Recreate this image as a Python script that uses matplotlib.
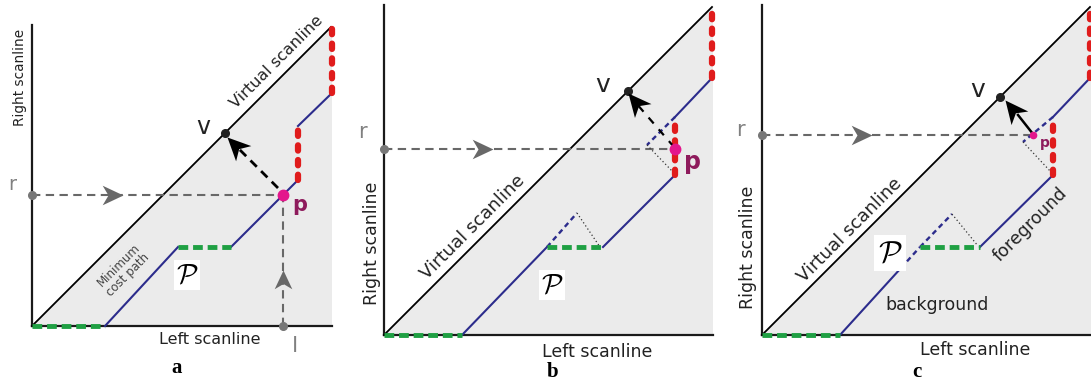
import matplotlib.pyplot as plt
from matplotlib.path import Path
from matplotlib.markers import MarkerStyle
from matplotlib.transforms import Affine2D

plt.rcParams['mathtext.fontset'] = 'cm'

# geometry of the three cost matrices, in pixels from each panel's origin
width_a, width_b, width_c = 300, 329, 329      # left scanline length
height_a, height_b, height_c = 301, 330, 330   # right scanline length
diag_a, diag_b, diag_c = 299, 328, 328         # end of the virtual scanline

# minimum cost path: g = left occlusion, m = match, h = hidden match,
# r = right occlusion
kind_ab = ['g', 'm', 'g', 'm', 'r', 'm', 'r']
kind_c = ['g', 'm', 'h', 'g', 'm', 'r', 'm', 'r']
path_a_x = [0, 73, 146, 199, 266, 266, 300, 300]
path_a_y = [0, 0, 79, 79, 146, 200, 233, 299]
path_b_x = [0, 78, 163, 219, 291, 291, 328, 328]
path_b_y = [0, 0, 88, 88, 160, 218, 257, 330]
path_c_x = [0, 78, 139, 158, 218, 291, 291, 328, 328]
path_c_y = [0, 0, 67, 88, 88, 160, 218, 257, 330]

# hidden continuation of a match (blue dots) and its projection (black dots)
occl_b_x = [[163, 193, 216], [291, 263, 289]]
occl_b_y = [[88, 122, 88], [218, 190, 163]]
occl_c_x = [[158, 190, 216], [291, 261, 289]]
occl_c_y = [[88, 121, 89], [218, 193, 163]]

# point p, virtual point v and the arrow from p to v
p_a, p_b, p_c = (251, 131), (291, 186), (271, 200)
v_a, v_b, v_c = (193, 193), (244, 244), (238, 238)
tip_a, tip_b, tip_c = (195, 189), (244, 242), (243, 235)
shaft_a = ([246, 205], [138, 179])
shaft_b = ([290, 252], [188, 232])
shaft_c = ([271, 256], [201, 220])
r_head = [91, 109, 110]           # x of the arrow head on the r line
l_x_a, l_head_a = 251, 56         # l line only in panel a

blue = '#2c2c8c'
green = '#1fa043'
red = '#e01c1c'
magenta = '#e3168c'
plum = '#8e1b5c'
grey = '#686868'
fill_grey = '#ebebeb'

stealth = Path([(0, 0), (-1, 0.47), (-0.72, 0), (-1, -0.47), (0, 0)],
               [Path.MOVETO, Path.LINETO, Path.LINETO, Path.LINETO, Path.CLOSEPOLY])


def head(ax, x, y, angle, color, size):
    m = MarkerStyle(stealth, transform=Affine2D().rotate_deg(angle))
    ax.plot(x, y, marker=m, ms=size, color=color, mec=color, mew=0, zorder=7)


def draw_panel(ax, w, h, d, px, py, kinds, occl_x, occl_y):
    ax.fill([0, w, w, d], [0, 0, d, d], color=fill_grey, lw=0, zorder=0)
    ax.plot([0, 0], [0, h], color='#1a1a1a', lw=1.6, zorder=2)
    ax.plot([0, w], [0, 0], color='#1a1a1a', lw=1.6, zorder=2)
    ax.plot([0, d], [0, d], color='black', lw=1.3, zorder=2)
    for xs, ys in zip(occl_x, occl_y):
        ax.plot(xs[:2], ys[:2], color=blue, lw=1.7, dashes=(2.2, 1.6), zorder=4)
        ax.plot(xs[1:], ys[1:], color='#333333', lw=0.9, dashes=(1, 2), zorder=4)
    for i, kind in enumerate(kinds):
        xs, ys = px[i:i + 2], py[i:i + 2]
        if kind == 'm':
            ax.plot(xs, ys, color=blue, lw=1.5, zorder=4)
        elif kind == 'h':
            ax.plot(xs, ys, color=blue, lw=1.7, dashes=(2.2, 1.6), zorder=4)
        elif kind == 'g':
            ax.plot(xs, ys, color=green, lw=3.5, dashes=(2.0, 1.0), zorder=5)
        else:
            ax.plot(xs, ys, color=red, lw=4.5, dashes=(0.85, 1.5),
                    dash_capstyle='round', zorder=5)


fig = plt.figure(figsize=(10.91, 3.90), dpi=100)
ax_a = fig.add_axes([0, 0, 360 / 1091, 1])
ax_b = fig.add_axes([360 / 1091, 0, 360 / 1091, 1])
ax_c = fig.add_axes([720 / 1091, 0, 371 / 1091, 1])
ax_a.set_xlim(-32, 328)
ax_a.set_ylim(-64, 326)
ax_b.set_xlim(-24, 336)
ax_b.set_ylim(-55, 335)
ax_c.set_xlim(-42, 329)
ax_c.set_ylim(-55, 335)
for ax in (ax_a, ax_b, ax_c):
    ax.axis('off')

draw_panel(ax_a, width_a, height_a, diag_a, path_a_x, path_a_y, kind_ab, [], [])
draw_panel(ax_b, width_b, height_b, diag_b, path_b_x, path_b_y, kind_ab, occl_b_x, occl_b_y)
draw_panel(ax_c, width_c, height_c, diag_c, path_c_x, path_c_y, kind_c, occl_c_x, occl_c_y)

# r (and l) scan positions
for ax, p, hx in zip((ax_a, ax_b, ax_c), (p_a, p_b, p_c), r_head):
    ax.plot([0, p[0]], [p[1], p[1]], color=grey, lw=1.5, dashes=(4, 2.6), zorder=3)
    ax.plot(0, p[1], 'o', ms=5.5, color='#777777', zorder=6)
    head(ax, hx, p[1], 0, grey, 30)
ax_a.plot([l_x_a, l_x_a], [0, p_a[1]], color=grey, lw=1.5, dashes=(4, 2.6), zorder=3)
ax_a.plot(l_x_a, 0, 'o', ms=5.5, color='#777777', zorder=6)
head(ax_a, l_x_a, l_head_a, 90, grey, 27)

# arrow from p to the virtual point v
ax_a.plot(*shaft_a, color='black', lw=2, dashes=(3.2, 2.2), zorder=6)
ax_b.plot(*shaft_b, color='black', lw=1.6, dashes=(3.5, 3.5), zorder=6)
ax_c.plot(*shaft_c, color='black', lw=1.8, zorder=6)
head(ax_a, tip_a[0], tip_a[1], 135, 'black', 33)
head(ax_b, tip_b[0], tip_b[1], 130, 'black', 33)
head(ax_c, tip_c[0], tip_c[1], 129, 'black', 33)
for ax, v in zip((ax_a, ax_b, ax_c), (v_a, v_b, v_c)):
    ax.plot(*v, 'o', ms=5.5, color='#222222', zorder=6)

# p points
ax_a.plot(*p_a, 'o', ms=7.5, color=magenta, zorder=6)
ax_b.plot(*p_b, 'o', ms=7.5, color=magenta, zorder=6)
ax_c.plot(*p_c, 'o', ms=4.5, color=magenta, zorder=6)

# texts of panel a
ax_a.text(-12, 249, 'Right scanline', rotation=90, fontsize=9.8, ha='center', va='center', color='#222222')
ax_a.text(245, 264, 'Virtual scanline', rotation=45, fontsize=11.5, ha='center', va='center', rotation_mode='anchor', color='#222222')
ax_a.text(178, -14, 'Left scanline', fontsize=11.5, ha='center', va='center', color='#222222')
ax_a.text(91, 56, 'Minimum\ncost path', rotation=45, fontsize=8.5, ha='center', va='center', rotation_mode='anchor', color='#444444', linespacing=1.0)
ax_a.text(155, 51, r'$\mathcal{P}$', fontsize=20, ha='center', va='center', zorder=8,
          bbox=dict(fc='white', ec='none', pad=1))
ax_a.text(-20, 141, 'r', fontsize=14, ha='center', va='center', color='#808080')
ax_a.text(263, -20, 'l', fontsize=16, ha='center', va='center', color='#808080')
ax_a.text(171, 199, 'v', fontsize=17, ha='center', va='center', color='#222222')
ax_a.text(268, 121, 'p', fontsize=15, fontweight='bold', ha='center', va='center', color=plum)
ax_a.text(145, -42, 'a', fontsize=15, fontweight='bold', family='Liberation Serif', ha='center', va='center')

# texts of panel b
ax_b.text(-12, 92, 'Right scanline', rotation=90, fontsize=12.5, ha='center', va='center', color='#222222')
ax_b.text(89, 108, 'Virtual scanline', rotation=45, fontsize=13, ha='center', va='center', rotation_mode='anchor', color='#222222')
ax_b.text(213, -17, 'Left scanline', fontsize=12.5, ha='center', va='center', color='#222222')
ax_b.text(168, 50, r'$\mathcal{P}$', fontsize=20, ha='center', va='center', zorder=8,
          bbox=dict(fc='white', ec='none', pad=1))
ax_b.text(-22, 203, 'r', fontsize=15, ha='center', va='center', color='#808080')
ax_b.text(219, 250, 'v', fontsize=18, ha='center', va='center', color='#222222')
ax_b.text(309, 173, 'p', fontsize=17, fontweight='bold', ha='center', va='center', color=plum)
ax_b.text(169, -37, 'b', fontsize=15, fontweight='bold', family='Liberation Serif', ha='center', va='center')

# texts of panel c
ax_c.text(-14, 88, 'Right scanline', rotation=90, fontsize=12.5, ha='center', va='center', color='#222222')
ax_c.text(88, 105, 'Virtual scanline', rotation=45, fontsize=13, ha='center', va='center', rotation_mode='anchor', color='#222222')
ax_c.text(268, 110, 'foreground', rotation=45, fontsize=12.5, ha='center', va='center', rotation_mode='anchor', color='#222222')
ax_c.text(175, 30, 'background', fontsize=12.5, ha='center', va='center', color='#222222')
ax_c.text(213, -15, 'Left scanline', fontsize=12.5, ha='center', va='center', color='#222222')
ax_c.text(128, 82, r'$\mathcal{P}$', fontsize=22, ha='center', va='center', zorder=8,
          bbox=dict(fc='white', ec='none', boxstyle='square,pad=0.12'))
ax_c.text(-22, 205, 'r', fontsize=15, ha='center', va='center', color='#808080')
ax_c.text(216, 245, 'v', fontsize=18, ha='center', va='center', color='#222222')
ax_c.text(283, 192, 'p', fontsize=10, fontweight='bold', ha='center', va='center', color=plum)
ax_c.text(155, -37, 'c', fontsize=15, fontweight='bold', family='Liberation Serif', ha='center', va='center')

fig.savefig('out.png', dpi=100)
